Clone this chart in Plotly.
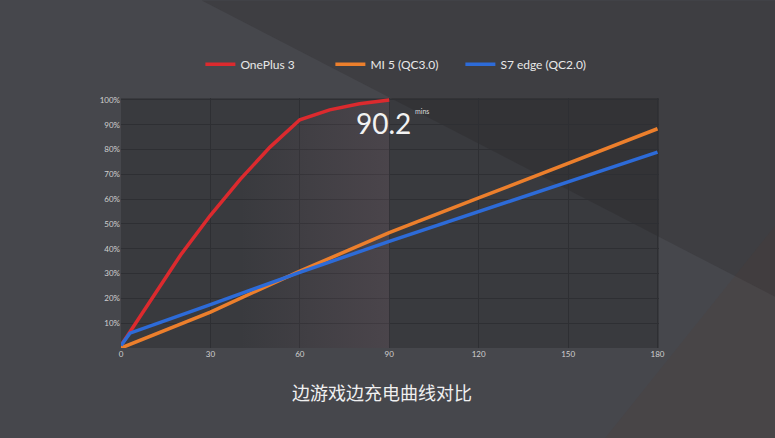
import plotly.graph_objects as go

# ---- data ----
minutes_op3 = [0, 10, 20, 30, 40, 50, 60, 70, 80, 90]
pct_op3 = [1, 19, 37.5, 53.5, 68, 81, 92, 96, 98.5, 100]

minutes_mi5 = [0, 30, 60, 90, 120, 150, 180]
pct_mi5 = [0, 14.5, 31, 46.5, 60.5, 74.5, 88.4]

minutes_s7 = [0, 3, 30, 60, 90, 120, 150, 180]
pct_s7 = [1, 6, 17.5, 30.5, 43, 55, 67, 79]

series_names = ["OnePlus 3", "MI 5 (QC3.0)", "S7 edge (QC2.0)"]
series_colors = ["#dc2a2e", "#ec7f2c", "#2d6bd8"]

x_ticks = [0, 30, 60, 90, 120, 150, 180]
y_ticks = [10, 20, 30, 40, 50, 60, 70, 80, 90, 100]
y_tick_labels = [f"{v}%" for v in y_ticks]

highlight_value = "90.2"
highlight_unit = "mins"
caption = "边游戏边充电曲线对比"

fig = go.Figure()

# translucent highlight under the OnePlus curve (last part)
hx = [m for m in minutes_op3 if m >= 40]
hy = [p for m, p in zip(minutes_op3, pct_op3) if m >= 40]
fig.add_trace(go.Scatter(
    x=hx, y=hy, mode="lines", line=dict(width=0), fill="tozeroy",
    fillgradient=dict(type="horizontal",
                      colorscale=[[0, "rgba(190,140,160,0.0)"], [1, "rgba(190,140,160,0.13)"]]),
    showlegend=False, hoverinfo="skip"))

for xs, ys, name, col in [
    (minutes_op3, pct_op3, series_names[0], series_colors[0]),
    (minutes_mi5, pct_mi5, series_names[1], series_colors[1]),
    (minutes_s7, pct_s7, series_names[2], series_colors[2]),
]:
    fig.add_trace(go.Scatter(x=xs, y=ys, mode="lines", name=name,
                             line=dict(color=col, width=3.5)))

# soft background variations (decoration)
fig.add_shape(type="path", xref="paper", yref="paper", layer="below",
              path="M 0.15 1.39 L 1.22 1.39 L 1.22 0.2 Z",
              fillcolor="rgba(25,24,22,0.18)", line=dict(width=0))
fig.add_shape(type="path", xref="paper", yref="paper", layer="below",
              path="M 0.9 -0.36 L 1.22 -0.36 L 1.22 0.5 Z",
              fillcolor="rgba(90,60,45,0.15)", line=dict(width=0))

fig.add_annotation(x=88, y=90.8, xref="x", yref="y", text=highlight_value,
                   showarrow=False, font=dict(family="Lato, Open Sans, sans-serif",
                                              size=28, color="#f2f2f2"))
fig.add_annotation(x=101, y=95.5, xref="x", yref="y", text=highlight_unit,
                   showarrow=False, font=dict(family="Lato, sans-serif", size=7, color="#dddddd"))

fig.add_annotation(x=0.486, y=-0.235, xref="paper", yref="paper", text=caption,
                   showarrow=False,
                   font=dict(family="Noto Sans CJK SC", size=18, color="#f0f0f0"))

fig.update_layout(
    width=775, height=438,
    margin=dict(l=121, r=116, t=98, b=90),
    paper_bgcolor="#46474c",
    plot_bgcolor="#393a3e",
    font=dict(family="Lato, sans-serif", color="#dcdcdc"),
    legend=dict(orientation="h", x=0.51, xanchor="center", y=1.135, yanchor="middle",
                font=dict(size=12, color="#e8e8e8"), bgcolor="rgba(0,0,0,0)",
                entrywidth=85, itemwidth=30),
    xaxis=dict(range=[0, 180.5], tickvals=x_ticks, showgrid=True, gridcolor="#2e2f33",
               gridwidth=1, zeroline=False, showline=False,
               tickfont=dict(size=8, color="#d0d0d0"), ticks="", fixedrange=True),
    yaxis=dict(range=[0, 100.8], tickvals=y_ticks, ticktext=y_tick_labels,
               showgrid=True, gridcolor="#2e2f33", gridwidth=1, zeroline=False,
               showline=False, tickfont=dict(size=8, color="#d0d0d0"), ticks="",
               fixedrange=True),
    showlegend=True,
)

fig.write_html("out.html", config={"displayModeBar": False},
               post_script="document.body.style.margin='0';document.body.style.background='#46474c';")
